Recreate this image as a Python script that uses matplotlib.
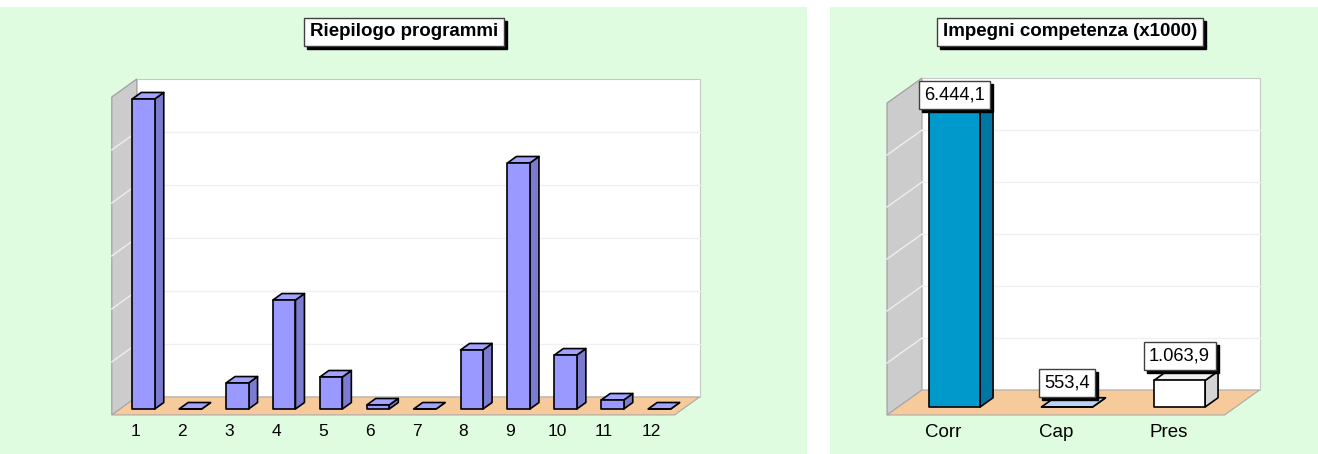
import matplotlib
matplotlib.use('Agg')
import matplotlib.pyplot as plt
from matplotlib.patches import Polygon, Rectangle
from matplotlib import transforms

plt.rcParams['font.family'] = ['Liberation Sans', 'DejaVu Sans']

# --- data ---
prog_labels = ['1', '2', '3', '4', '5', '6', '7', '8', '9', '10', '11', '12']
prog_values = [2925, 0, 245, 1028, 302, 38, 0, 557, 2321, 509, 85, 0]

comp_labels = ['Corr', 'Cap', 'Pres']
comp_values = [6444.1, 553.4, 1063.9]
comp_colors = ['#0099CC', '#A6C8F5', '#FFFFFF']
comp_sides = ['#0077A3', '#86A8D8', '#D4D4D4']
comp_tops = ['#2AA8D6', '#B8D4F8', '#F0F0F0']

W, H = 1318, 454
GREEN = '#E0FCE0'
FLOOR = '#F7CA9C'
WALL = '#CCCCCC'

fig = plt.figure(figsize=(W / 100, H / 100), dpi=100)
fig.patch.set_facecolor('white')
fig.patches.append(Rectangle((0, 0), 807 / W, 447 / H, transform=fig.transFigure,
                             fc=GREEN, ec='none', zorder=-5))
fig.patches.append(Rectangle((830 / W, 0), (W - 830) / W, 447 / H, transform=fig.transFigure,
                             fc=GREEN, ec='none', zorder=-5))


def it_fmt(v):
    s = f'{v:,.1f}'
    return s.replace(',', 'X').replace('.', ',').replace('X', '.')


def boxed_text(ax, x, y, s, size, weight='normal', trans=None, va='bottom', pad=0.3):
    trans = trans if trans is not None else ax.transData
    shadow = transforms.offset_copy(trans, fig=fig, x=3, y=-3, units='dots')
    kw = dict(ha='center', va=va, fontsize=size, fontweight=weight, clip_on=False)
    ax.text(x, y, s, transform=shadow, color='black', zorder=8,
            bbox=dict(boxstyle=f'square,pad={pad}', fc='black', ec='black', lw=1), **kw)
    ax.text(x, y, s, transform=trans, color='black', zorder=9,
            bbox=dict(boxstyle=f'square,pad={pad}', fc='white', ec='#404040', lw=1), **kw)


def chart(rect, x0, step, y0, ppu, base, top, grid, depth, d_floor, d_bar, d_wall, bar_w,
          labels, values, fronts, sides, tops, tick_size, value_labels=False, label_cap=None):
    l, t, r, b = rect
    ax = fig.add_axes([l / W, 1 - b / H, (r - l) / W, (b - t) / H])
    ax.set_xlim((l - x0) / step, (r - x0) / step)
    ax.set_ylim(base + (y0 - b) / ppu, base + (y0 - t) / ppu)
    ax.axis('off')
    Dx, Dy = depth[0] / step, depth[1] / ppu
    n = len(values)

    def P(x, v, d):
        return (x + d * Dx, v + d * Dy)

    xl, xr = -0.5, n - 0.5
    # left wall
    ax.add_patch(Polygon([P(xl, base, d_floor), P(xl, base, d_wall), P(xl, top, d_wall),
                          P(xl, top, d_floor)], fc=WALL, ec='#9A9A9A', lw=0.8, zorder=1))
    # back wall
    ax.add_patch(Polygon([P(xl, base, d_wall), P(xr, base, d_wall), P(xr, top, d_wall),
                          P(xl, top, d_wall)], fc='white', ec='#C8C8C8', lw=0.8, zorder=1))
    # floor
    ax.add_patch(Polygon([P(xl, base, d_floor), P(xr, base, d_floor), P(xr, base, d_wall),
                          P(xl, base, d_wall)], fc=FLOOR, ec='#A8A8A8', lw=0.8, zorder=2))
    # grid lines
    g = base + grid
    while g < top - 1e-6:
        a, c = P(xl, g, d_wall), P(xr, g, d_wall)
        ax.plot([a[0], c[0]], [a[1], c[1]], color='#F0F0F0', lw=1, zorder=1.5)
        f = P(xl, g, d_floor)
        ax.plot([f[0], a[0]], [f[1], a[1]], color='#EEEEEE', lw=1, zorder=1.5)
        g += grid

    for i, v in enumerate(values):
        x1, x2 = i - bar_w / 2, i + bar_w / 2
        ekw = dict(ec='black', lw=1.2, joinstyle='round')
        ax.add_patch(Polygon([P(x2, base, 0), P(x2, base, d_bar), P(x2, v, d_bar), P(x2, v, 0)],
                             fc=sides[i], zorder=3, **ekw))
        ax.add_patch(Polygon([P(x1, v, 0), P(x2, v, 0), P(x2, v, d_bar), P(x1, v, d_bar)],
                             fc=tops[i], zorder=3, **ekw))
        ax.add_patch(Rectangle((x1, base), bar_w, v - base, fc=fronts[i], zorder=4, **ekw))
        lx, ly = P(i, base, d_floor)
        ax.text(lx, ly - 9 / ppu, labels[i], ha='center', va='top', fontsize=tick_size,
                clip_on=False)
        if value_labels:
            y_lab = min(v + 16 / ppu, label_cap)
            boxed_text(ax, i, y_lab, it_fmt(v), 13.2)
    return ax


n_prog = len(prog_values)
chart((100, 60, 720, 425), 143.5, 46.9, 409, 0.106, 0, 3000, 500, (25, 18),
      -0.33, 0.36, 0.67, 0.48, prog_labels, prog_values,
      ['#9999FF'] * n_prog, ['#7B7BD0'] * n_prog, ['#A3A3FF'] * n_prog, 12.5)

base_c = min(comp_values)
chart((870, 60, 1280, 425), 954.5, 112.5, 407, 0.052, base_c, base_c + 6000, 1000, (35, 25),
      -0.32, 0.37, 0.68, 0.455, comp_labels, comp_values,
      comp_colors, comp_sides, comp_tops, 13.5, value_labels=True,
      label_cap=base_c + (407 - 104) / 0.052)

# panel titles
tax = fig.add_axes([0, 0, 1, 1])
tax.axis('off')
tax.set_xlim(0, W)
tax.set_ylim(H, 0)
boxed_text(tax, 404, 32, 'Riepilogo programmi', 13.5, weight='bold', va='center', pad=0.3)
boxed_text(tax, 1070, 32, 'Impegni competenza (x1000)', 13.5, weight='bold', va='center', pad=0.3)

fig.savefig('out.png', dpi=100)
